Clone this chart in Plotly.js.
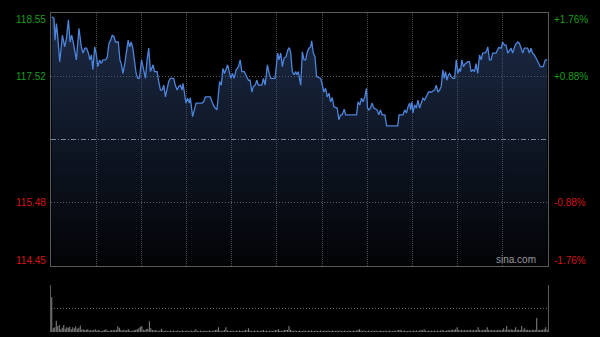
<!DOCTYPE html>
<html>
<head>
<meta charset="utf-8">
<script src="https://cdn.plot.ly/plotly-3.0.1.min.js"></script>
<style>html,body{margin:0;padding:0;background:#000;}#chart{width:600px;height:337px;}</style>
</head>
<body>
<div id="chart"></div>
<script>
// ---- data ----
const prevClose = 116.50;
const yMin = 114.45, yMax = 118.55;
const leftTicks = [118.55, 117.52, 115.48, 114.45];
const rightTicks = ["+1.76%", "+0.88%", "-0.88%", "-1.76%"];

// minute offsets from the open (0..330) and prices
const minutes = [
  0,1.5,2.2,3.1,3.8,5.3,7.1,8.6,9.8,11.1,12.2,13.3,14.4,16.4,18.1,19.7,20.8,22.1,23.2,24.4,25.4,26.4,27.4,28.6,29.7,30.7,31.9,33.0,34.1,35.9,37.0,38.1,39.2,40.3,41.4,42.5,44.3,45.4,46.3,47.4,48.5,49.8,50.9,51.8,52.9,54.0,55.1,56.2,57.3,58.4,59.8,61.3,62.4,63.5,64.6,65.7,
  66.9,67.5,68.4,70.2,71.2,72.4,73.5,74.6,75.7,76.8,77.9,79.0,81.2,82.3,83.5,84.5,85.7,86.8,87.4,88.3,89.4,90.5,91.6,92.3,93.0,93.8,95.0,96.1,100.1,101.1,102.3,105.6,106.7,108.2,110.0,111.1,111.8,112.9,114.0,115.1,116.2,117.1,118.2,119.3,120.4,121.5,122.8,124.4,125.5,126.6,128.2,129.5,131.0,132.1,
  133.3,134.3,135.5,136.6,137.6,139.9,141.0,142.1,143.6,144.8,145.9,148.7,149.9,150.5,151.4,152.5,153.6,154.7,156.0,157.2,158.2,159.2,160.2,161.4,162.5,163.1,164.2,165.8,166.9,168.0,169.1,170.2,171.3,172.4,173.1,174.2,175.3,176.4,179.1,180.4,181.3,182.4,183.5,184.6,185.7,186.8,187.9,190.1,191.2,192.4,193.4,194.8,195.7,198.5,
  203.0,204.0,205.2,206.3,207.4,208.5,209.6,210.3,211.2,212.3,213.3,214.5,216.7,217.8,218.9,220.0,221.8,223.1,230.4,231.3,233.9,235.1,236.2,237.3,238.4,239.0,239.9,240.6,241.7,242.8,243.9,245.0,246.1,247.2,248.3,249.5,251.0,252.8,255.0,256.1,257.2,258.3,259.4,260.5,261.4,262.3,263.1,264.3,
  264.9,266.1,267.1,268.3,269.4,270.5,271.6,272.2,273.1,274.2,275.4,277.1,278.2,279.3,280.4,281.5,282.6,283.7,284.9,286.0,287.0,288.2,289.3,290.4,291.5,292.6,293.7,295.9,297.7,299.3,300.3,301.5,302.6,303.7,304.8,305.9,307.0,308.6,310.3,311.4,312.6,313.7,314.7,317.0,318.1,319.2,320.3,321.4,322.5,324.2,325.4,327.3,328.7,330
];
const prices = [
  118.49,118.46,118.11,118.38,118.22,117.76,118.19,118.00,118.14,118.44,118.08,118.19,118.06,117.79,118.30,118.00,117.90,117.98,117.98,117.90,117.79,117.87,117.63,118.00,117.87,117.68,117.79,117.73,117.79,117.79,117.84,118.06,118.11,118.19,118.17,118.08,118.08,117.79,117.73,117.57,117.71,117.90,118.11,118.00,118.08,117.98,117.79,117.57,117.49,117.49,117.79,117.60,117.49,117.79,117.98,117.60,
  117.68,117.71,117.60,117.60,117.44,117.30,117.30,117.38,117.19,117.33,117.44,117.49,117.49,117.38,117.30,117.36,117.38,117.30,117.41,117.27,117.09,117.17,117.09,117.18,117.01,116.87,116.98,117.09,117.09,117.11,117.19,117.19,117.11,117.03,116.98,117.25,117.44,117.38,117.65,117.57,117.65,117.71,117.60,117.49,117.57,117.49,117.63,117.68,117.79,117.60,117.60,117.52,117.46,117.46,
  117.27,117.36,117.38,117.46,117.38,117.38,117.49,117.38,117.71,117.57,117.49,117.49,117.73,117.90,117.79,117.90,117.68,117.82,117.84,117.95,117.99,117.90,117.60,117.55,117.60,117.55,117.60,117.38,117.92,117.79,117.79,117.92,117.98,118.00,118.10,117.90,117.84,117.52,117.49,117.38,117.27,117.33,117.19,117.25,117.11,117.18,117.03,117.01,116.82,116.90,116.90,116.99,116.90,116.90,
  116.90,117.11,117.06,117.17,117.11,117.19,117.33,117.01,116.98,117.01,117.09,117.01,116.98,116.90,116.98,116.90,116.90,116.72,116.72,116.90,116.90,116.98,116.93,117.03,117.09,116.98,117.11,116.93,117.06,117.01,117.14,117.01,117.09,117.17,117.14,117.19,117.27,117.27,117.30,117.38,117.27,117.30,117.36,117.63,117.49,117.60,117.46,117.55,
  117.57,117.52,117.49,117.49,117.79,117.57,117.65,117.60,117.79,117.68,117.73,117.76,117.76,117.60,117.63,117.60,117.73,117.57,117.87,117.79,117.90,117.90,117.92,118.00,117.79,117.79,117.90,117.90,117.99,117.98,118.08,118.03,118.03,117.90,117.95,117.98,117.90,118.03,118.08,118.06,117.98,117.90,117.98,117.98,117.90,117.98,117.90,117.87,117.82,117.73,117.68,117.68,117.79,117.79
];

// per-minute volume (relative units), minutes 0..330
const volumes = [
  74,8,10,24,12,15,6,9,15,7,10,9,11,6,10,8,12,7,9,14,5,6,4,5,6,3,4,3,4,6,
  3,4,3,2,3,4,6,3,2,3,4,3,5,4,12,9,4,3,5,3,4,6,3,2,3,4,5,6,8,11,
  12,5,4,6,7,23,8,4,3,4,3,2,3,7,3,2,3,2,2,3,2,3,2,2,3,2,2,3,2,2,
  3,2,2,3,2,3,6,2,2,3,2,2,3,2,2,3,2,2,3,4,5,10,3,2,3,4,10,3,2,2,
  3,2,2,3,2,3,2,2,3,4,3,8,3,2,2,3,2,3,2,2,3,4,2,3,2,2,3,2,3,4,
  3,6,3,2,3,4,5,4,13,4,3,2,3,2,2,3,2,2,3,2,2,3,2,3,2,2,3,2,2,3,
  2,2,3,2,3,2,2,3,2,2,3,2,3,2,2,3,2,2,3,2,2,3,2,3,4,6,3,2,3,2,
  2,3,2,2,3,2,3,2,2,3,2,2,3,2,2,3,2,2,3,2,3,4,5,3,2,3,2,2,3,2,
  2,3,2,3,2,3,4,3,6,3,2,3,2,3,2,3,2,3,2,3,4,3,2,3,4,3,4,5,4,6,
  10,4,3,5,3,4,3,4,3,5,3,4,3,5,10,4,3,4,5,4,10,4,3,5,3,4,3,5,4,3,
  5,8,4,13,5,4,6,4,5,10,4,5,4,13,5,8,4,5,4,3,5,4,5,30,4,5,4,5,6,10,5
];
const volMinutes = volumes.map((v, i) => i);
const gridMinutes = [30,60,90,120,150,180,210,240,270,300];

const green = '#1b9e1b', red = '#d41414';
const font = 'Liberation Sans, Arial, sans-serif';

const traces = [
  {
    type: 'scatter', mode: 'lines', x: minutes, y: prices,
    xaxis: 'x', yaxis: 'y',
    line: {color: '#4d84dc', width: 1.3},
    fill: 'tozeroy',
    fillgradient: {
      type: 'vertical', start: yMin, stop: yMax,
      colorscale: [[0, 'rgba(56,86,140,0.04)'], [1, 'rgba(56,86,140,0.5)']]
    },
    hoverinfo: 'skip'
  },
  {
    type: 'bar', x: volMinutes, y: volumes, xaxis: 'x2', yaxis: 'y2',
    marker: {color: '#8c8c8c', line: {width: 0}},
    hoverinfo: 'skip'
  }
];

const annotations = [];
leftTicks.forEach((v, i) => {
  const shift = i === 0 ? -6 : (i === leftTicks.length - 1 ? 6 : 0);
  const col = v > prevClose ? green : red;
  annotations.push({
    xref: 'paper', yref: 'y', x: 0, y: v, xanchor: 'right', yanchor: 'middle',
    xshift: -3, yshift: shift, showarrow: false,
    text: v.toFixed(2), font: {family: font, size: 10, color: col}
  });
  annotations.push({
    xref: 'paper', yref: 'y', x: 1, y: v, xanchor: 'left', yanchor: 'middle',
    xshift: 4, yshift: shift, showarrow: false,
    text: rightTicks[i], font: {family: font, size: 10, color: col}
  });
});
annotations.push({
  xref: 'paper', yref: 'y', x: 1, y: yMin, xanchor: 'right', yanchor: 'bottom',
  xshift: -10, yshift: -1, showarrow: false,
  text: 'sina.com', font: {family: font, size: 10, color: '#9a9a9a'}
});

const layout = {
  width: 600, height: 337,
  margin: {l: 51, r: 52, t: 13, b: 5, pad: 0},
  paper_bgcolor: '#000', plot_bgcolor: '#000',
  showlegend: false,
  bargap: 0.35,
  xaxis: {
    domain: [0, 1], anchor: 'y', range: [-0.5, 330.5],
    tickmode: 'array', tickvals: gridMinutes, showticklabels: false, ticks: '',
    showgrid: true, gridcolor: '#4a4a4a', griddash: '1px,1px', gridwidth: 1,
    zeroline: false, showline: true, mirror: true, linecolor: '#5a5a5a', linewidth: 1
  },
  yaxis: {
    domain: [0.2069, 1], anchor: 'x', range: [yMin, yMax],
    tickmode: 'array', tickvals: [117.52, 115.48], showticklabels: false, ticks: '',
    showgrid: true, gridcolor: '#5a5a5a', griddash: '1px,2px', gridwidth: 1,
    zeroline: false, showline: true, mirror: true, linecolor: '#5a5a5a', linewidth: 1
  },
  xaxis2: {
    domain: [0, 1], anchor: 'y2', range: [-0.5, 330.5],
    showticklabels: false, ticks: '', showgrid: false, zeroline: false, showline: false
  },
  yaxis2: {
    domain: [0, 0.1473], anchor: 'x2', range: [0, 100],
    tickmode: 'array', tickvals: [50, 100], showticklabels: false, ticks: '',
    showgrid: true, gridcolor: '#666', griddash: '1px,2px', gridwidth: 1,
    zeroline: false, showline: true, mirror: true, linecolor: '#5a5a5a', linewidth: 1
  },
  shapes: [{
    type: 'line', xref: 'paper', yref: 'y', x0: 0, x1: 1, y0: prevClose, y1: prevClose,
    line: {color: '#7d8590', width: 1, dash: '5px,2px,1px,2px'}, layer: 'above'
  }],
  annotations: annotations
};

Plotly.newPlot('chart', traces, layout, {staticPlot: true, displayModeBar: false});
</script>
</body>
</html>
